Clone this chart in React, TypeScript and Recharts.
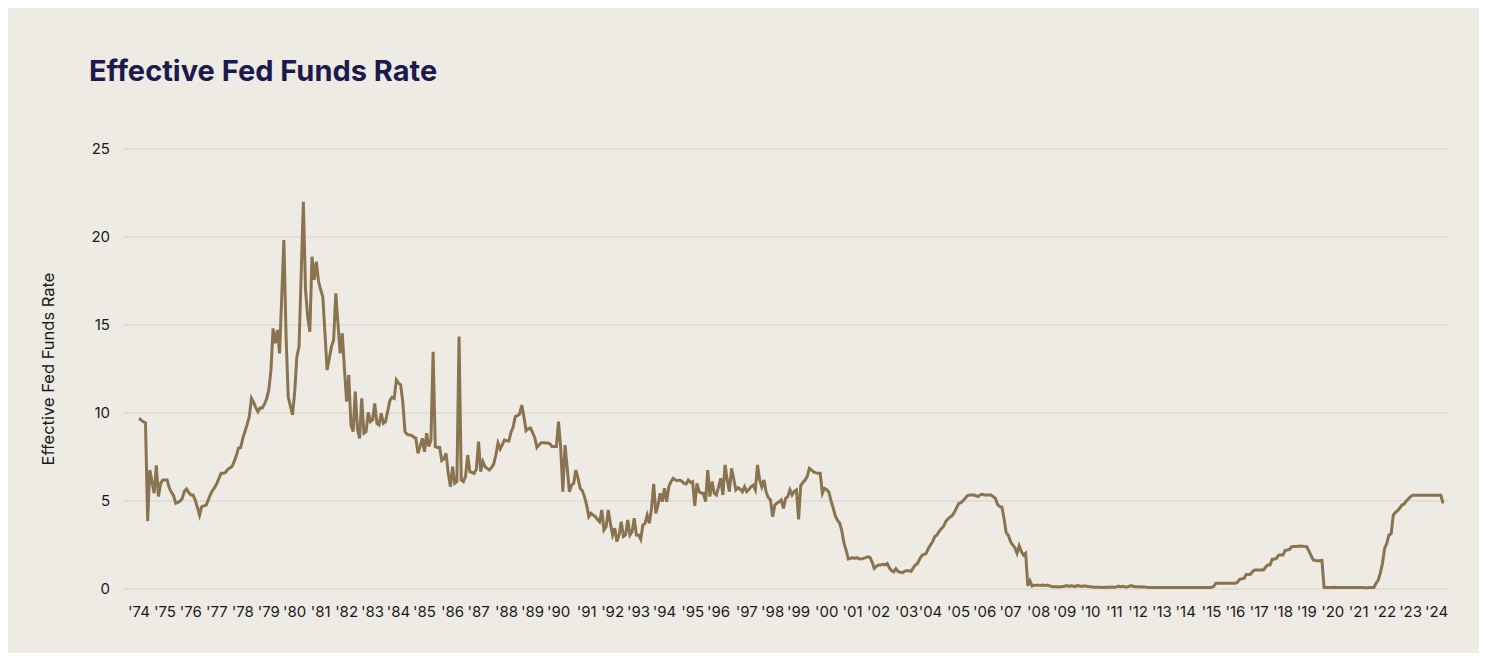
import React from 'react';
import { LineChart, Line, XAxis, YAxis, CartesianGrid, Label } from 'recharts';

const firstYear = 1974;

const rates1970s: number[][] = [
  [9.7, 9.6, 9.5, 9.45, 3.86, 6.76, 6.1, 5.44, 7.03, 5.25, 6.0, 6.19], // 1974
  [6.19, 6.19, 5.75, 5.5, 5.3, 4.87, 4.92, 5.0, 5.15, 5.55, 5.68, 5.48], // 1975
  [5.34, 5.34, 5.05, 4.64, 4.2, 4.68, 4.72, 4.76, 5.05, 5.36, 5.6, 5.77], // 1976
  [6.0, 6.3, 6.57, 6.57, 6.62, 6.8, 6.87, 6.96, 7.24, 7.58, 8.0, 8.04], // 1977
  [8.56, 8.95, 9.35, 9.79, 10.83, 10.6, 10.3, 10.07, 10.28, 10.28, 10.5, 10.8], // 1978
  [11.3, 12.4, 14.81, 13.96, 14.72, 13.39, 16.6, 19.83, 14.4, 10.9, 10.4, 9.89], // 1979
];

const rates1980s: number[][] = [
  [11.2, 13.2, 13.77, 17.9, 22.0, 16.99, 15.47, 14.62, 18.88, 17.56, 18.6, 17.5], // 1980
  [17.0, 16.6, 14.5, 12.44, 13.1, 13.77, 14.15, 16.8, 15.1, 13.39, 14.53, 12.5], // 1981
  [10.64, 12.16, 9.32, 8.94, 11.21, 9.1, 8.56, 10.83, 8.85, 8.94, 10.04, 9.51], // 1982
  [9.6, 10.55, 9.41, 9.32, 9.98, 9.41, 9.51, 10.1, 10.7, 10.9, 10.83, 11.88], // 1983
  [11.7, 11.6, 10.6, 8.94, 8.78, 8.75, 8.74, 8.63, 8.58, 7.71, 8.1, 8.56], // 1984
  [7.8, 8.85, 8.09, 8.47, 13.48, 8.09, 8.04, 8.05, 7.3, 7.4, 7.71, 6.57, 5.81], // 1985
  [6.95, 6.0, 6.1, 14.34, 6.19, 6.1, 6.4, 7.61, 6.67, 6.62, 6.57, 6.8], // 1986
  [8.37, 6.67, 7.24, 6.95, 6.85, 6.76, 6.9, 7.1, 7.6, 8.28, 7.95, 8.2, 8.47], // 1987
  [8.42, 8.4, 8.9, 9.2, 9.8, 9.85, 9.94, 10.45, 9.79, 9.0, 9.1, 9.15], // 1988
  [8.88, 8.6, 8.05, 8.2, 8.31, 8.31, 8.3, 8.29, 8.25, 8.1, 8.09, 8.09], // 1989
];

const rates1990s: number[][] = [
  [9.51, 8.0, 5.53, 8.18, 6.9, 5.53, 5.9, 6.0, 6.76, 6.3, 5.72, 5.58, 5.25], // 1990
  [4.77, 4.11, 4.3, 4.2, 4.11, 3.95, 3.82, 4.49, 3.35, 3.54, 4.49, 3.7], // 1991
  [3.07, 3.45, 2.69, 3.07, 3.82, 2.98, 3.07, 3.92, 3.07, 3.26, 4.02, 3.07], // 1992
  [3.07, 2.82, 3.64, 3.73, 4.2, 3.73, 4.58, 5.97, 4.3, 4.77, 5.44, 4.96], // 1993
  [5.72, 4.96, 5.81, 6.1, 6.29, 6.2, 6.16, 6.19, 6.12, 6.0, 5.97, 6.19, 6.05], // 1994
  [6.1, 4.72, 6.0, 5.53, 5.44, 5.44, 4.96, 6.76, 5.25, 6.1, 5.44, 5.34], // 1995
  [5.8, 6.29, 5.34, 7.05, 6.2, 5.53, 6.86, 6.25, 5.63, 5.76, 5.67, 5.53, 5.81], // 1996
  [5.53, 5.65, 5.8, 5.9, 5.63, 7.05, 6.2, 5.8, 6.19, 5.5, 5.2, 5.06], // 1997
  [4.11, 4.77, 4.87, 4.95, 5.06, 4.58, 5.15, 5.25, 5.63, 5.34, 5.55, 5.63], // 1998
  [3.96, 5.88, 6.05, 6.19, 6.4, 6.86, 6.76, 6.65, 6.6, 6.57, 6.57, 5.44, 5.72], // 1999
];

const rates2000s: number[][] = [
  [5.65, 5.5, 5.0, 4.6, 4.15, 3.9, 3.75, 3.3, 2.6, 2.2, 1.7, 1.75], // 2000
  [1.78, 1.75, 1.78, 1.72, 1.71, 1.74, 1.78, 1.83, 1.8, 1.53, 1.17, 1.3], // 2001
  [1.36, 1.36, 1.4, 1.37, 1.45, 1.2, 1.04, 0.98, 1.15, 1.0, 0.95, 0.93, 1.0], // 2002
  [1.04, 1.04, 1.0, 1.2, 1.36, 1.45, 1.7, 1.9, 1.97, 2.02, 2.3], // 2003
  [2.5, 2.69, 2.98, 3.07, 3.28, 3.42, 3.55, 3.82, 3.97, 4.08, 4.17, 4.35, 4.6], // 2004
  [4.85, 4.9, 5.0, 5.15, 5.3, 5.34, 5.34, 5.34, 5.3, 5.25, 5.35, 5.38], // 2005
  [5.34, 5.34, 5.34, 5.34, 5.25, 5.15, 4.8, 4.68, 4.66, 4.0, 3.2, 3.05], // 2006
  [2.7, 2.5, 2.35, 2.03, 2.46, 2.13, 1.93, 2.03, 0.17, 0.47, 0.17, 0.22, 0.22], // 2007
  [0.22, 0.2, 0.22, 0.2, 0.22, 0.18, 0.14, 0.13, 0.14, 0.12, 0.13, 0.14], // 2008
  [0.16, 0.2, 0.15, 0.18, 0.16, 0.15, 0.2, 0.17, 0.15, 0.18, 0.16, 0.14], // 2009
];

const rates2010s: number[][] = [
  [0.13, 0.11, 0.1, 0.1, 0.1, 0.1, 0.09, 0.1, 0.1, 0.1, 0.11], // 2010
  [0.1, 0.12, 0.17, 0.12, 0.15, 0.12, 0.12, 0.16, 0.19, 0.14, 0.13], // 2011
  [0.13, 0.12, 0.13, 0.12, 0.1, 0.09, 0.09, 0.09, 0.09, 0.09, 0.09], // 2012
  [0.09, 0.09, 0.09, 0.08, 0.09, 0.09, 0.08, 0.09, 0.09, 0.09, 0.08], // 2013
  [0.08, 0.08, 0.08, 0.08, 0.08, 0.08, 0.09, 0.09, 0.09, 0.09, 0.09, 0.09], // 2014
  [0.1, 0.15, 0.33, 0.33, 0.33, 0.33, 0.33, 0.33, 0.33, 0.33, 0.33], // 2015
  [0.33, 0.4, 0.55, 0.58, 0.6, 0.83, 0.83, 0.84, 1.0, 1.08, 1.08], // 2016
  [1.08, 1.08, 1.08, 1.25, 1.36, 1.36, 1.69, 1.69, 1.75, 1.92, 1.93], // 2017
  [1.93, 2.2, 2.22, 2.25, 2.4, 2.41, 2.42, 2.43, 2.44, 2.43, 2.41], // 2018
  [2.4, 2.15, 1.9, 1.65, 1.62, 1.6, 1.6, 1.62, 0.09, 0.08, 0.08, 0.08], // 2019
];

const rates2020s: number[][] = [
  [0.09, 0.1, 0.09, 0.09, 0.09, 0.09, 0.09, 0.08, 0.09, 0.09, 0.08, 0.08], // 2020
  [0.08, 0.08, 0.08, 0.07, 0.07, 0.08, 0.08, 0.08, 0.32, 0.49, 0.9, 1.46], // 2021
  [2.31, 2.6, 3.07, 3.14, 4.2, 4.35, 4.45, 4.6, 4.77, 4.83, 5.0, 5.12], // 2022
  [5.25, 5.33, 5.33, 5.33, 5.33, 5.33, 5.33, 5.33, 5.33, 5.33, 5.33, 5.33], // 2023
  [5.33, 5.33, 5.33, 4.87], // 2024
];

const yTicks = [0, 5, 10, 15, 20, 25];

const yearlyRates: number[][] = [
  ...rates1970s,
  ...rates1980s,
  ...rates1990s,
  ...rates2000s,
  ...rates2010s,
  ...rates2020s,
];

type Point = { idx: number; year: number; rate: number };
const data: Point[] = [];
const yearStarts: number[] = [];
const yearLabels: Record<number, string> = {};
let counter = 0;
yearlyRates.forEach((values, i) => {
  const year = firstYear + i;
  yearStarts.push(counter);
  yearLabels[counter] = `'${String(year % 100).padStart(2, '0')}`;
  values.forEach((rate) => {
    data.push({ idx: counter, year, rate });
    counter += 1;
  });
});

const FONT = 'Inter, "Noto Sans", sans-serif';

export default function App() {
  return (
    <div
      style={{
        position: 'relative',
        width: 1471,
        height: 645,
        background: '#eeebe5',
        fontFamily: FONT,
      }}
    >
      <div
        style={{
          position: 'absolute',
          left: 81,
          top: 48,
          fontSize: 29,
          lineHeight: 1,
          fontWeight: 700,
          color: '#1c1a4a',
          letterSpacing: 0,
        }}
      >
        Effective Fed Funds Rate
      </div>
      <div style={{ position: 'absolute', left: 0, top: 0 }}>
        <LineChart
          width={1471}
          height={645}
          data={data}
          margin={{ top: 141, right: 31, bottom: 24, left: 0 }}
        >
          <CartesianGrid vertical={false} stroke="#e2dfd9" strokeWidth={2} />
          <XAxis
            type="number"
            dataKey="idx"
            domain={[-7.4, 605.3]}
            ticks={yearStarts}
            interval={0}
            allowDataOverflow
            tickFormatter={(v: number) => yearLabels[v] ?? ''}
            axisLine={false}
            tickLine={false}
            tickSize={0}
            tickMargin={17}
            height={40}
            tick={{ fill: '#1a1a1a', fontSize: 15, fontFamily: FONT }}
          />
          <YAxis
            type="number"
            domain={[0, 25]}
            ticks={yTicks}
            width={115}
            axisLine={false}
            tickLine={false}
            tickSize={0}
            tickMargin={13}
            tick={{ fill: '#1a1a1a', fontSize: 15, fontFamily: FONT }}
          >
            <Label
              value="Effective Fed Funds Rate"
              angle={-90}
              position="insideLeft"
              offset={40}
              style={{ textAnchor: 'middle', fill: '#1a1a1a', fontSize: 16.5, fontFamily: FONT }}
            />
          </YAxis>
          <Line
            type="linear"
            dataKey="rate"
            stroke="#8a7350"
            strokeWidth={3}
            dot={false}
            isAnimationActive={false}
          />
        </LineChart>
      </div>
    </div>
  );
}
